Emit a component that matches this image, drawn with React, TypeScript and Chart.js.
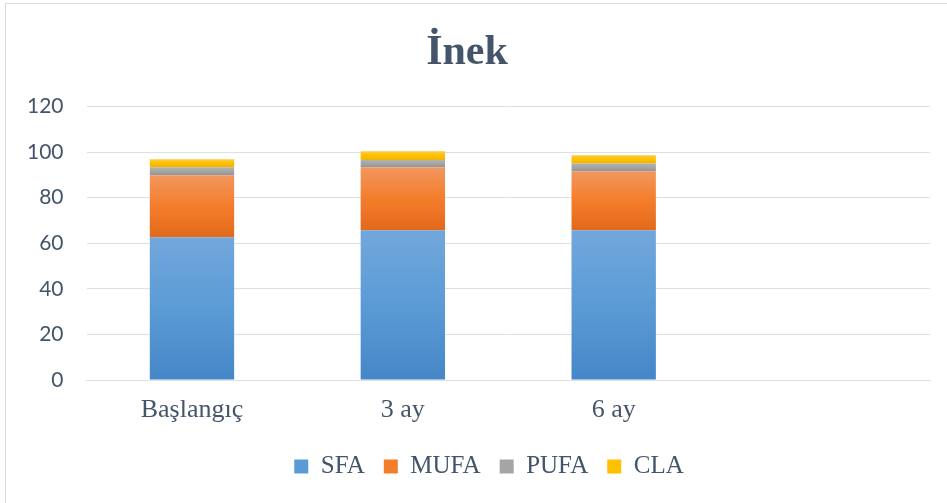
import React, { useEffect, useRef } from 'react'
import { Chart, registerables, ScriptableContext, Plugin } from 'chart.js'

Chart.register(...registerables)

// categories (4th slot is empty in the source chart)
const categories = ['Başlangıç', '3 ay', '6 ay', '']
const seriesNames = ['SFA', 'MUFA', 'PUFA', 'CLA']

const sfa = [62.6, 65.7, 65.7, null]
const mufa = [27.2, 27.6, 25.8, null]
const pufa = [3.5, 3.2, 3.5, null]
const cla = [3.5, 3.8, 3.6, null]
const series = [sfa, mufa, pufa, cla]

const yTicks = [0, 20, 40, 60, 80, 100, 120]

// top / middle / bottom colours of the office-style gradient fill
const topColors = ['#72A7DC', '#F1975F', '#B2B2B2', '#FFCA3A']
const midColors = ['#5B9BD5', '#F47D2A', '#A5A5A5', '#FFC000']
const botColors = ['#4586C8', '#E2691B', '#939393', '#EDB600']

const textColor = '#44546A'
const gridColor = '#DCE0E5'

function barFill(ds: number) {
  return (ctx: ScriptableContext<'bar'>) => {
    const chart = ctx.chart
    const y = chart.scales?.y
    if (ctx.type !== 'data' || !y || !chart.chartArea) return midColors[ds]
    const i = ctx.dataIndex
    let start = 0
    for (let k = 0; k < ds; k++) start += series[k][i] ?? 0
    const end = start + (series[ds][i] ?? 0)
    const yTop = y.getPixelForValue(end)
    const yBot = y.getPixelForValue(start)
    if (!isFinite(yTop) || !isFinite(yBot) || yTop === yBot) return midColors[ds]
    const g = chart.ctx.createLinearGradient(0, yTop, 0, yBot)
    g.addColorStop(0, topColors[ds])
    g.addColorStop(0.5, midColors[ds])
    g.addColorStop(1, botColors[ds])
    return g
  }
}

// the source legend sits a bit right of the canvas centre
const legendShift: Plugin<'bar'> = {
  id: 'legendShift',
  afterLayout(chart) {
    const lg = chart.legend
    if (lg) {
      lg.left += 22
      lg.right += 22
      lg.top -= 5
      lg.bottom -= 5
    }
  }
}

const StackedChart: React.FC = () => {
  const canvasRef = useRef<HTMLCanvasElement | null>(null)

  useEffect(() => {
    if (!canvasRef.current) return
    const chart = new Chart(canvasRef.current, {
      type: 'bar',
      data: {
        labels: categories,
        datasets: series.map((values, ds) => ({
          label: seriesNames[ds],
          data: values,
          backgroundColor: barFill(ds),
          borderWidth: 0,
          categoryPercentage: 1,
          barPercentage: 0.4
        }))
      },
      options: {
        responsive: true,
        maintainAspectRatio: false,
        animation: false,
        layout: { padding: { left: 4, right: 17, top: 0, bottom: 9 } },
        plugins: {
          title: {
            display: true,
            text: 'İnek',
            color: textColor,
            font: { family: '"Liberation Serif", "Times New Roman", serif', size: 42, weight: 'bold' },
            padding: { top: 28, bottom: 28 }
          },
          legend: {
            position: 'bottom',
            labels: {
              color: textColor,
              font: { family: '"Liberation Serif", "Times New Roman", serif', size: 25 },
              boxWidth: 14,
              boxHeight: 14,
              padding: 19,
              generateLabels: (c) =>
                Chart.defaults.plugins.legend.labels.generateLabels(c).map((item, i) => ({
                  ...item,
                  fillStyle: midColors[i],
                  strokeStyle: midColors[i],
                  lineWidth: 0
                }))
            }
          },
          tooltip: { enabled: false }
        },
        scales: {
          x: {
            stacked: true,
            grid: { display: false, drawTicks: false },
            border: { display: true, color: gridColor },
            ticks: {
              color: textColor,
              font: { family: '"Liberation Serif", "Times New Roman", serif', size: 26, lineHeight: 1.0 },
              padding: 17,
              maxRotation: 0
            }
          },
          y: {
            stacked: true,
            min: 0,
            max: 120,
            afterBuildTicks: (axis) => {
              axis.ticks = yTicks.map((v) => ({ value: v }))
            },
            grid: { color: gridColor, lineWidth: 1, drawTicks: false },
            border: { display: false },
            ticks: {
              color: textColor,
              font: { family: 'Lato, "Liberation Sans", sans-serif', size: 21 },
              padding: 23
            }
          }
        }
      },
      plugins: [legendShift]
    })
    return () => {
      chart.destroy()
    }
  }, [])

  return (
    <div style={{ position: 'absolute', left: 0, top: 0, width: 947, height: 503 }}>
      <canvas ref={canvasRef} />
    </div>
  )
}

export default function App() {
  return (
    <div
      style={{
        position: 'fixed',
        left: 0,
        top: 0,
        width: 947,
        height: 503,
        overflow: 'hidden',
        background: '#fff'
      }}
    >
      <div
        style={{
          position: 'absolute',
          left: 5,
          top: 3,
          width: 960,
          height: 520,
          border: '1px solid #D9D9D9',
          boxSizing: 'border-box'
        }}
      />
      <StackedChart />
    </div>
  )
}
